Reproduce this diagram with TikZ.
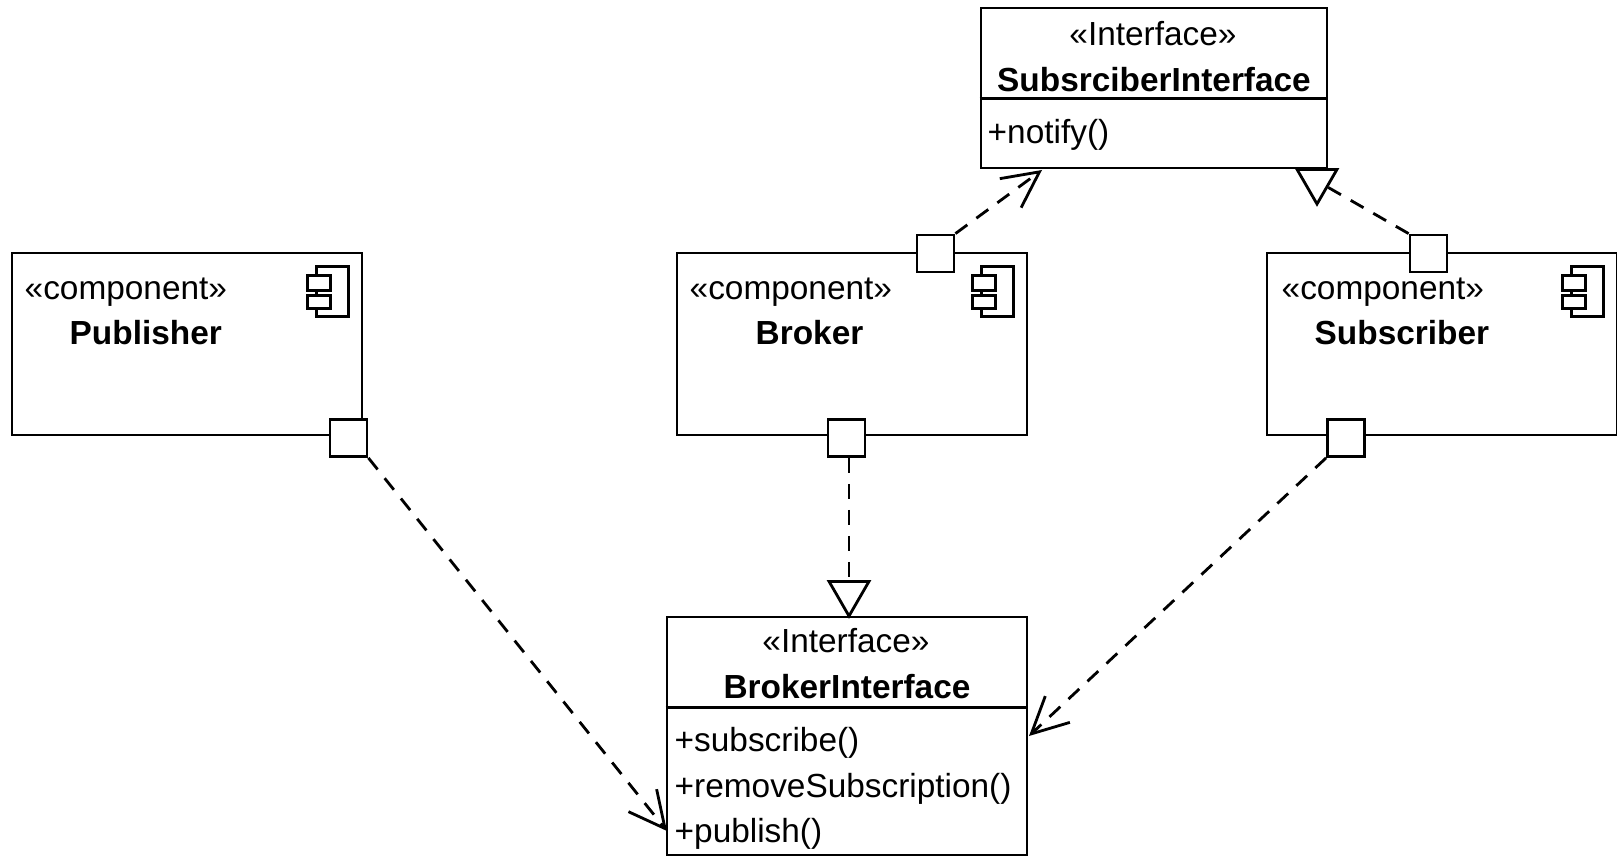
\documentclass[tikz,border=0pt]{standalone}
\usepackage{fontspec}
\setmainfont{Liberation Sans}
\usepackage{tikz}
\usetikzlibrary{arrows.meta, positioning, calc, shapes.geometric}
\tikzstyle{umlbox} = [rectangle, draw, line width=0.8pt, minimum width=3.5cm, minimum height=1.82cm, inner sep=0pt]
\tikzstyle{port} = [rectangle, draw, fill=white, line width=0.8pt, minimum size=0.37cm, inner sep=0pt]
\tikzstyle{realize} = [regular polygon, regular polygon sides=3, shape border rotate=180, draw, fill=white, line width=0.8pt, minimum size=0.46cm, inner sep=0pt]
\tikzstyle{depline} = [line width=0.8pt, dash pattern=on 4.2pt off 3.2pt]
\tikzstyle{usearrow} = [depline, -{Straight Barb[length=3.6mm, width=3.6mm]}]
\tikzstyle{iconline} = [line width=0.8pt, fill=white]
\tikzstyle{stereo} = [font=\fontsize{9.5pt}{11pt}\selectfont, inner sep=0pt]
\tikzstyle{title} = [font=\fontsize{9.5pt}{11pt}\selectfont\bfseries, inner sep=0pt]
\newcommand{\compicon}[1]{%
    \draw[iconline] ([shift={(-0.47,-0.15)}]#1.north east) rectangle ([shift={(-0.15,-0.65)}]#1.north east);
    \draw[iconline] ([shift={(-0.56,-0.24)}]#1.north east) rectangle ([shift={(-0.33,-0.39)}]#1.north east);
    \draw[iconline] ([shift={(-0.56,-0.44)}]#1.north east) rectangle ([shift={(-0.33,-0.57)}]#1.north east);
}

\begin{document}
\begin{tikzpicture}
    \useasboundingbox (0,0) rectangle (16.17,8.57);

    % Components
    \node[umlbox] (pub) at (1.87,5.13) {};
    \node[umlbox] (brk) at (8.52,5.13) {};
    \node[umlbox] (sub) at (14.42,5.13) {};
    \compicon{pub}
    \compicon{brk}
    \compicon{sub}

    % Component texts
    \node[stereo, anchor=base west] (pubst) at (0.24,5.57) {<<component>>};
    \node[title, anchor=base west] (pubname) at (0.69,5.12) {Publisher};
    \node[stereo, anchor=base west] (brkst) at (6.89,5.57) {<<component>>};
    \node[title, anchor=base west] (brkname) at (7.55,5.12) {Broker};
    \node[stereo, anchor=base west] (subst) at (12.81,5.57) {<<component>>};
    \node[title, anchor=base west] (subname) at (13.14,5.12) {Subscriber};

    % Interfaces
    \node[umlbox, minimum width=3.46cm, minimum height=1.6cm] (subif) at (11.54,7.69) {};
    \node[umlbox, minimum width=3.6cm, minimum height=2.38cm] (brkif) at (8.47,1.21) {};
    \draw[line width=0.8pt] ($(subif.north west)+(0,-0.92)$) -- ($(subif.north east)+(0,-0.92)$);
    \draw[line width=0.8pt] ($(brkif.north west)+(0,-0.915)$) -- ($(brkif.north east)+(0,-0.915)$);

    % Interface texts
    \node[stereo, anchor=base] (subifst) at (11.53,8.11) {<<Interface>>};
    \node[title, anchor=base] (subifname) at (11.54,7.65) {SubsrciberInterface};
    \node[stereo, anchor=base west] (notify) at (9.87,7.13) {+notify()};
    \node[stereo, anchor=base] (brkifst) at (8.46,2.05) {<<Interface>>};
    \node[title, anchor=base] (brkifname) at (8.47,1.59) {BrokerInterface};
    \node[stereo, anchor=base west] (msub) at (6.74,1.06) {+subscribe()};
    \node[stereo, anchor=base west] (mrem) at (6.74,0.60) {+removeSubscription()};
    \node[stereo, anchor=base west] (mpub) at (6.74,0.15) {+publish()};

    % Ports
    \node[port] (p1) at (3.485,4.19) {};
    \node[port] (p2) at (8.465,4.19) {};
    \node[port] (p3) at (13.46,4.19) {};
    \node[port] (p4) at (9.355,6.035) {};
    \node[port] (p5) at (14.285,6.035) {};

    % Triangle heads
    \node[realize] (tri1) at (13.17,6.76) {};
    \node[realize] (tri2) at (8.49,2.64) {};

    % Free arrow ends on the interface boxes
    \coordinate (tip1) at (6.67,0.26);
    \coordinate (tip2) at (10.29,1.21);
    \coordinate (tip3) at (10.42,6.87);

    % Dependencies
    \draw[usearrow] (p1.south east) -- (tip1);
    \draw[usearrow] (p3.south west) -- (tip2);
    \draw[usearrow] (p4.north east) -- (tip3);
    \draw[depline] (p2.south -| tri2) -- (tri2);
    \draw[depline] (p5.north west) -- (tri1);
\end{tikzpicture}
\end{document}
